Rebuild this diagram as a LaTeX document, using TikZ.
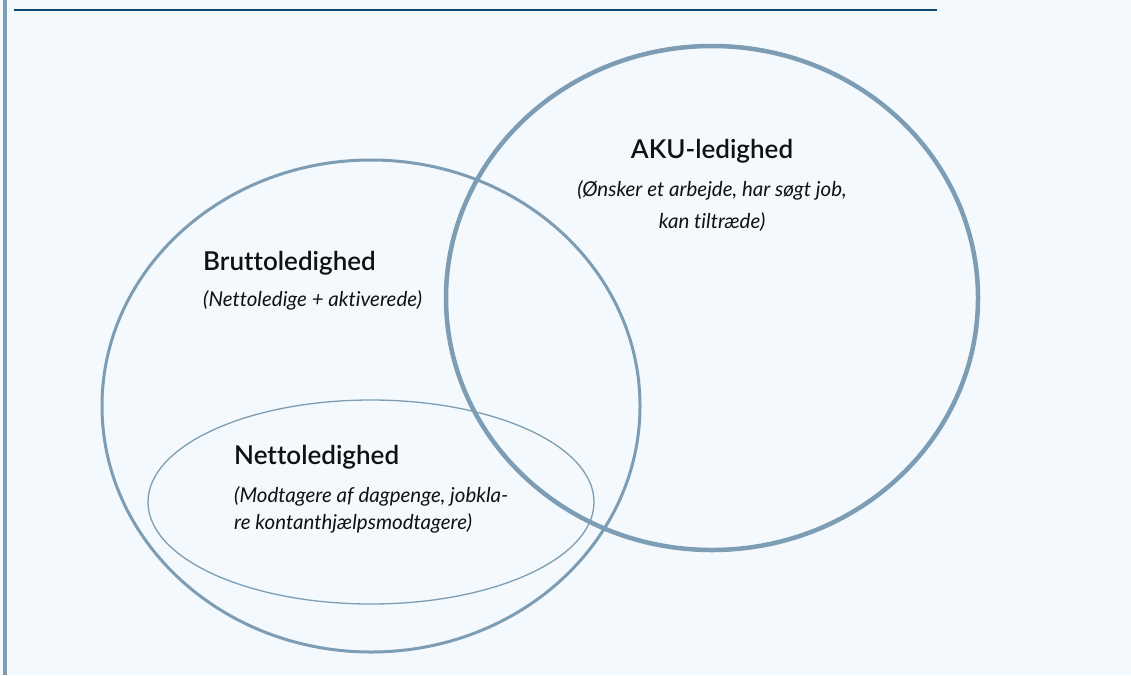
\documentclass[tikz,border=0pt]{standalone}
\usepackage{fontspec}
\setmainfont{Lato}[Ligatures=NoCommon]
\newfontfamily\headfont{Lato Semibold}[Ligatures=NoCommon]
\definecolor{bg}{HTML}{F4F9FD}
\definecolor{ring}{HTML}{7D9DB4}
\definecolor{rule}{HTML}{0B4A6E}
\definecolor{txt}{HTML}{111111}
\tikzset{
  head/.style={font=\headfont\fontsize{26}{30}\selectfont, text=txt, inner sep=0pt},
  sub/.style={font=\itshape\fontsize{20.5}{27}\selectfont, text=txt, inner sep=0pt},
  subwide/.style={font=\itshape\fontsize{20.5}{32}\selectfont, text=txt, inner sep=0pt},
  ringline/.style={draw=ring}
}
\begin{document}
\begin{tikzpicture}[x=1pt,y=-1pt]
\fill[bg] (0,0) rectangle (1131,675);
\useasboundingbox (0,0) rectangle (1131,675);
% left bar and top rule
\fill[ring] (3,0) rectangle (7,675);
\draw[rule, line width=2pt] (14,10) -- (937,10);
% circles
\draw[ringline, line width=4.5pt] (712,298) ellipse [x radius=266, y radius=252];
\draw[ringline, line width=3pt] (371,406) ellipse [x radius=269, y radius=246];
\draw[ringline, line width=1.3pt] (371,502) ellipse [x radius=223, y radius=102];
% labels
\node[head] (aku) at (712,151) {AKU-ledighed};
\node[subwide, align=center] (akusub) at (712,206) {(Ønsker et arbejde, har søgt job,\\kan tiltræde)};
\node[head, anchor=west] (brutto) at (203,263) {Bruttoledighed};
\node[sub, anchor=west] (bruttosub) at (203,300) {(Nettoledige + aktiverede)};
\node[head, anchor=west] (netto) at (234,457) {Nettoledighed};
\node[sub, anchor=west, align=left] (nettosub) at (234,509.5) {(Modtagere af dagpenge, jobkla-\\re kontanthjælpsmodtagere)};
\end{tikzpicture}
\end{document}
